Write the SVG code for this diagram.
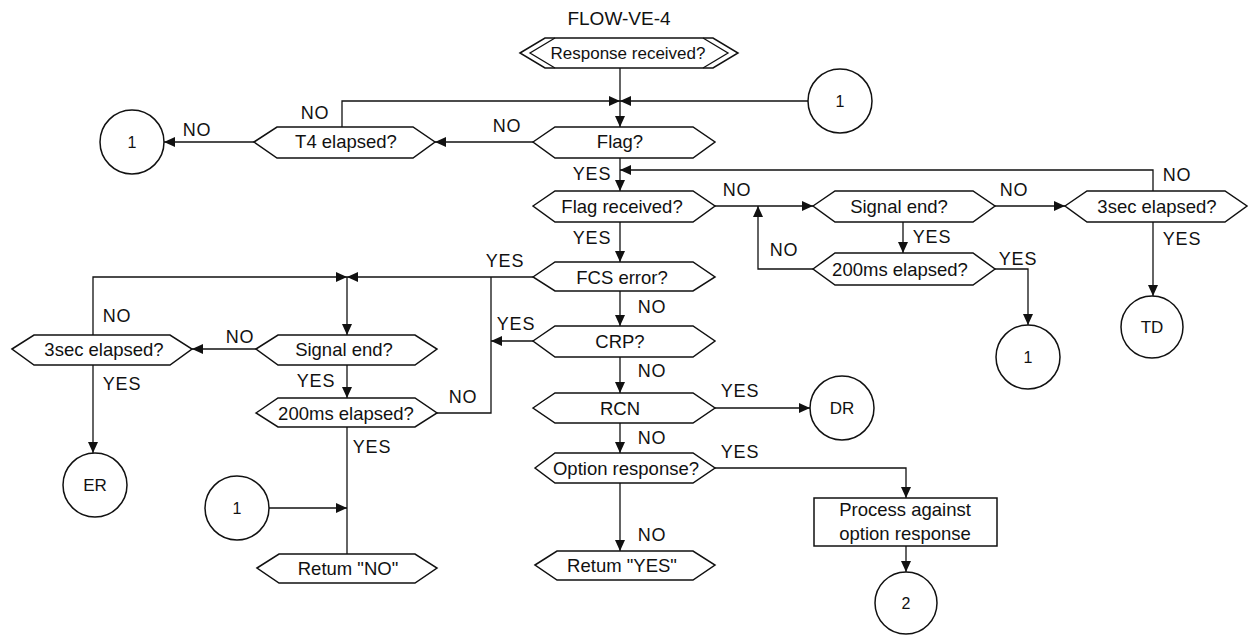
<svg xmlns="http://www.w3.org/2000/svg" width="1253" height="639" viewBox="0 0 1253 639">
<style>
.s{fill:#fff;stroke:#111;stroke-width:1.5}
.c{fill:none;stroke:#111;stroke-width:1.3}
.t{font-family:"Liberation Sans",Arial,sans-serif;font-size:18.5px;fill:#111;text-anchor:middle}
.h{font-family:"Liberation Sans",Arial,sans-serif;font-size:17px;fill:#111;text-anchor:middle}
.f{font-family:"Liberation Sans",Arial,sans-serif;font-size:19px;fill:#111;text-anchor:middle}
.l{font-family:"Liberation Sans",Arial,sans-serif;font-size:18px;fill:#111;text-anchor:middle;letter-spacing:0.8px}
.n{font-family:"Liberation Sans",Arial,sans-serif;font-size:16px;fill:#111;text-anchor:middle}
.m{font-family:"Liberation Sans",Arial,sans-serif;font-size:17px;fill:#111;text-anchor:middle}
</style>
<defs>
<marker id="a" markerUnits="userSpaceOnUse" markerWidth="12" markerHeight="10" refX="11" refY="5" orient="auto">
<path d="M0,0 L11,5 L0,10 Z" fill="#111"/>
</marker>
</defs>
<rect width="1253" height="639" fill="#fff"/>
<text class="f" x="619" y="25">FLOW-VE-4</text>

<g id="connectors">
<path class="c" d="M620,68 V127" marker-end="url(#a)"/>
<path class="c" d="M342,127 V101 H620" marker-end="url(#a)"/>
<path class="c" d="M808,101 H620" marker-end="url(#a)"/>
<path class="c" d="M533,142 H435" marker-end="url(#a)"/>
<path class="c" d="M254,142 H164" marker-end="url(#a)"/>
<path class="c" d="M620,158 V191" marker-end="url(#a)"/>
<path class="c" d="M1153,191 V170 H620" marker-end="url(#a)"/>
<path class="c" d="M715,206 H813" marker-end="url(#a)"/>
<path class="c" d="M813,269 H758 V206" marker-end="url(#a)"/>
<path class="c" d="M995,206 H1065" marker-end="url(#a)"/>
<path class="c" d="M903,222 V253" marker-end="url(#a)"/>
<path class="c" d="M995,269 H1028 V325" marker-end="url(#a)"/>
<path class="c" d="M1153,222 V296" marker-end="url(#a)"/>
<path class="c" d="M620,222 V262" marker-end="url(#a)"/>
<path class="c" d="M533,277 H347" marker-end="url(#a)"/>
<path class="c" d="M93,335 V277 H347" marker-end="url(#a)"/>
<path class="c" d="M347,277 V335" marker-end="url(#a)"/>
<path class="c" d="M620,291 V326" marker-end="url(#a)"/>
<path class="c" d="M533,341 H491" marker-end="url(#a)"/>
<path class="c" d="M437,413 H491 V277"/>
<path class="c" d="M256,349 H192" marker-end="url(#a)"/>
<path class="c" d="M93,365 V453" marker-end="url(#a)"/>
<path class="c" d="M347,365 V398" marker-end="url(#a)"/>
<path class="c" d="M347,427 V554"/>
<path class="c" d="M269,508 H347" marker-end="url(#a)"/>
<path class="c" d="M620,357 V393" marker-end="url(#a)"/>
<path class="c" d="M715,408 H810" marker-end="url(#a)"/>
<path class="c" d="M620,423 V453" marker-end="url(#a)"/>
<path class="c" d="M715,468 H906 V498" marker-end="url(#a)"/>
<path class="c" d="M620,483 V551" marker-end="url(#a)"/>
<path class="c" d="M906,546 V572" marker-end="url(#a)"/>
</g>

<g id="labels">
<text class="l" x="315" y="119">NO</text>
<text class="l" x="197" y="136">NO</text>
<text class="l" x="507" y="132">NO</text>
<text class="l" x="592" y="180">YES</text>
<text class="l" x="1177" y="181">NO</text>
<text class="l" x="737" y="196">NO</text>
<text class="l" x="1014" y="196">NO</text>
<text class="l" x="932" y="243">YES</text>
<text class="l" x="1182" y="245">YES</text>
<text class="l" x="784" y="256">NO</text>
<text class="l" x="1018" y="265">YES</text>
<text class="l" x="592" y="244">YES</text>
<text class="l" x="505" y="267">YES</text>
<text class="l" x="652" y="313">NO</text>
<text class="l" x="516" y="330">YES</text>
<text class="l" x="117" y="322">NO</text>
<text class="l" x="240" y="343">NO</text>
<text class="l" x="122" y="390">YES</text>
<text class="l" x="316" y="387">YES</text>
<text class="l" x="463" y="403">NO</text>
<text class="l" x="652" y="377">NO</text>
<text class="l" x="740" y="397">YES</text>
<text class="l" x="652" y="444">NO</text>
<text class="l" x="740" y="458">YES</text>
<text class="l" x="372" y="453">YES</text>
<text class="l" x="652" y="541">NO</text>
</g>

<g id="response-received">
<polygon class="s" points="520,53 545,38 713,38 738,53 713,68 545,68"/>
<polyline class="c" points="555,38 530,53 555,68"/>
<polyline class="c" points="703,38 728,53 703,68"/>
<text class="h" x="628" y="59">Response received?</text>
</g>

<g id="flag">
<polygon class="s" points="533,142 555,127 693,127 715,142 693,158 555,158"/>
<text class="t" x="620" y="148">Flag?</text>
</g>

<g id="t4-elapsed">
<polygon class="s" points="254,142 277,127 413,127 435,142 413,158 277,158"/>
<text class="t" x="346" y="148">T4 elapsed?</text>
</g>

<g id="c1-top-left">
<circle class="s" cx="132" cy="142" r="32"/>
<text class="n" x="132" y="148">1</text>
</g>

<g id="c1-top-right">
<circle class="s" cx="840" cy="101" r="32"/>
<text class="n" x="840" y="107">1</text>
</g>

<g id="flag-received">
<polygon class="s" points="533,206 555,191 693,191 715,206 693,222 555,222"/>
<text class="t" x="622" y="213">Flag received?</text>
</g>

<g id="signal-end-r">
<polygon class="s" points="813,206 835,191 973,191 995,206 973,222 835,222"/>
<text class="t" x="899" y="213">Signal end?</text>
</g>

<g id="sec3-elapsed-r">
<polygon class="s" points="1065,206 1087,191 1225,191 1247,206 1225,222 1087,222"/>
<text class="t" x="1157" y="213">3sec elapsed?</text>
</g>

<g id="ms200-elapsed-r">
<polygon class="s" points="813,269 835,253 973,253 995,269 973,285 835,285"/>
<text class="t" x="900" y="276">200ms elapsed?</text>
</g>

<g id="c1-mid-right">
<circle class="s" cx="1028" cy="357" r="32"/>
<text class="n" x="1028" y="363">1</text>
</g>

<g id="td">
<circle class="s" cx="1152" cy="327" r="31"/>
<text class="m" x="1152" y="333">TD</text>
</g>

<g id="fcs-error">
<polygon class="s" points="533,277 555,262 693,262 715,277 693,291 555,291"/>
<text class="t" x="622" y="284">FCS error?</text>
</g>

<g id="crp">
<polygon class="s" points="533,341 555,326 693,326 715,341 693,357 555,357"/>
<text class="t" x="620" y="348">CRP?</text>
</g>

<g id="rcn">
<polygon class="s" points="533,408 555,393 693,393 715,408 693,423 555,423"/>
<text class="t" x="620" y="415">RCN</text>
</g>

<g id="dr">
<circle class="s" cx="842" cy="408" r="32"/>
<text class="m" x="842" y="414">DR</text>
</g>

<g id="option-response">
<polygon class="s" points="535,468 555,453 693,453 715,468 693,483 555,483"/>
<text class="t" x="626" y="475">Option response?</text>
</g>

<g id="process-option">
<rect class="s" x="814" y="498" width="183" height="48"/>
<text class="t" x="905" y="516">Process against</text>
<text class="t" x="905" y="540">option response</text>
</g>

<g id="c2">
<circle class="s" cx="906" cy="603" r="31"/>
<text class="n" x="906" y="609">2</text>
</g>

<g id="return-yes">
<polygon class="s" points="535,565 557,551 693,551 715,565 693,580 557,580"/>
<text class="t" x="622" y="572">Retum "YES"</text>
</g>

<g id="signal-end-l">
<polygon class="s" points="256,349 278,335 415,335 437,349 415,365 278,365"/>
<text class="t" x="344" y="356">Signal end?</text>
</g>

<g id="sec3-elapsed-l">
<polygon class="s" points="12,349 34,335 170,335 192,349 170,365 34,365"/>
<text class="t" x="104" y="356">3sec elapsed?</text>
</g>

<g id="ms200-elapsed-l">
<polygon class="s" points="256,413 278,398 415,398 437,413 415,427 278,427"/>
<text class="t" x="346" y="420">200ms elapsed?</text>
</g>

<g id="er">
<circle class="s" cx="95" cy="485" r="32"/>
<text class="m" x="95" y="491">ER</text>
</g>

<g id="c1-bottom-left">
<circle class="s" cx="237" cy="508" r="32"/>
<text class="n" x="237" y="514">1</text>
</g>

<g id="return-no">
<polygon class="s" points="257,568 279,554 415,554 437,568 415,583 279,583"/>
<text class="t" x="348" y="575">Retum "NO"</text>
</g>
</svg>
